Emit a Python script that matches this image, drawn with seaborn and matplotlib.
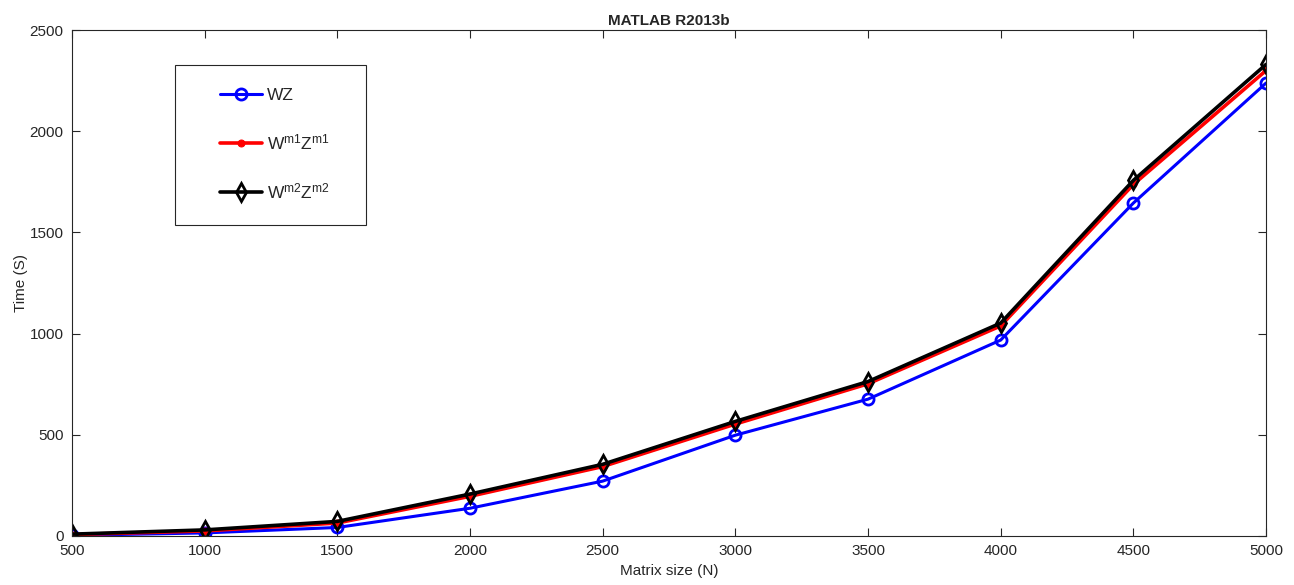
import numpy as np
import pandas as pd
import seaborn as sns
import matplotlib.pyplot as plt
from matplotlib.patches import Rectangle

# Data
sizes = [500, 1000, 1500, 2000, 2500, 3000, 3500, 4000, 4500, 5000]
t_wz = [3, 15, 42, 137, 271, 498, 676, 968, 1645, 2238]
t_m1 = [7, 25, 64, 196, 343, 553, 752, 1038, 1737, 2300]
t_m2 = [9, 30, 72, 207, 354, 566, 763, 1052, 1757, 2330]
labels = ['WZ', r'$\mathregular{W^{m1}Z^{m1}}$', r'$\mathregular{W^{m2}Z^{m2}}$']

sns.set_style('white')
plt.rcParams['font.family'] = ['Liberation Sans', 'DejaVu Sans']
plt.rcParams['mathtext.fontset'] = 'custom'
plt.rcParams['mathtext.rm'] = 'Liberation Sans'

fig = plt.figure(figsize=(12.94, 5.85), dpi=100)
ax = fig.add_axes([0.0556, 0.0838, 0.9228, 0.8649])

df = pd.DataFrame({'N': sizes, 'wz': t_wz, 'm1': t_m1, 'm2': t_m2})

sns.lineplot(data=df, x='N', y='wz', ax=ax, color='#0000ff', lw=2.2,
             marker='o', markersize=8, markerfacecolor='none',
             markeredgecolor='#0000ff', markeredgewidth=2, label=labels[0])
sns.lineplot(data=df, x='N', y='m1', ax=ax, color='#ff0000', lw=2.6,
             marker='o', markersize=5, markerfacecolor='#ff0000',
             markeredgecolor='#ff0000', label=labels[1])
sns.lineplot(data=df, x='N', y='m2', ax=ax, color='black', lw=2.6,
             marker='d', markersize=9, markerfacecolor='none',
             markeredgecolor='black', markeredgewidth=2, label=labels[2])

ax.set_xlim(500, 5000)
ax.set_ylim(0, 2500)
ax.set_xticks(np.arange(500, 5001, 500))
ax.set_yticks(np.arange(0, 2501, 500))
ax.tick_params(direction='in', length=6, width=0.8, colors='#262626',
               labelsize=11, pad=6, top=True, right=True, bottom=True, left=True,
               labeltop=False, labelright=False)
for s in ax.spines.values():
    s.set_color('#262626')
    s.set_linewidth(0.8)

ax.set_xlabel('Matrix size (N)', fontsize=11, color='#262626', labelpad=4)
ax.set_ylabel('Time (S)', fontsize=11, color='#262626', labelpad=1)
ax.set_title('MATLAB R2013b', fontsize=11, fontweight='bold', pad=3.5)

# legend box like MATLAB's (wide, with loose padding)
ax.add_patch(Rectangle((0.1352, 0.6154), 0.1476, 0.2735,
                       transform=fig.transFigure, clip_on=False,
                       facecolor='white', edgecolor='#262626',
                       linewidth=0.8, zorder=4))
leg = ax.legend(loc='center left', bbox_to_anchor=(0.1636, 0.7530),
                bbox_transform=fig.transFigure, fontsize=12.5,
                labelspacing=1.7, handlelength=2.4, borderpad=0,
                frameon=False, handletextpad=0.28)
leg.set_zorder(6)
for t in leg.get_texts():
    t.set_color('#262626')

fig.savefig('out.png', dpi=100)
